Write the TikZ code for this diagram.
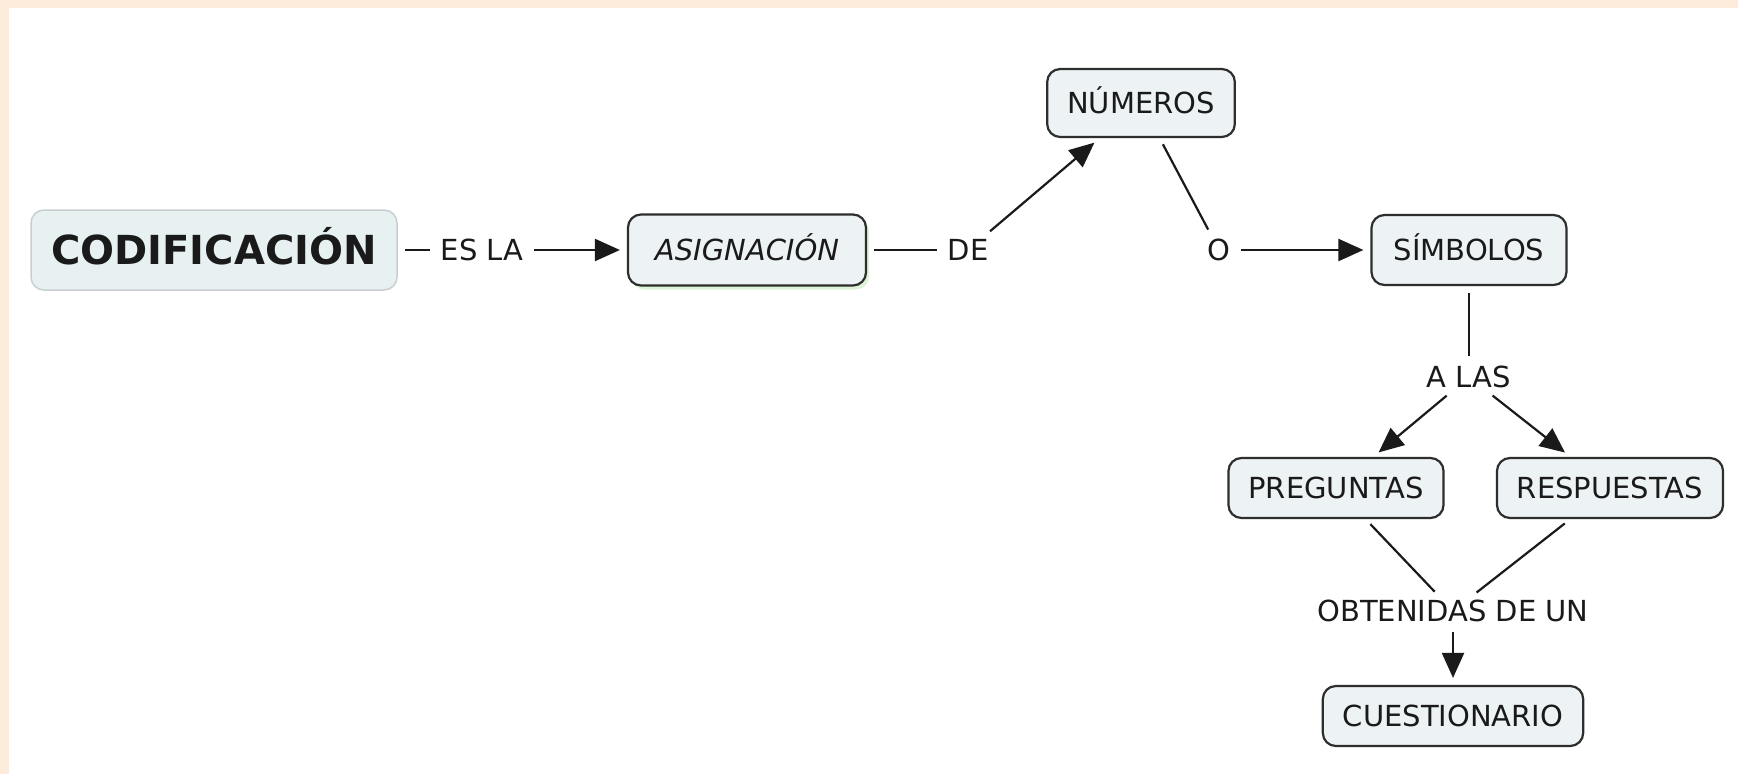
\documentclass[tikz,border=0pt]{standalone}
\usepackage{fontspec}
\setmainfont{DejaVu Sans}
\usetikzlibrary{arrows.meta,shadows}
\definecolor{peach}{HTML}{FDEBDC}
\definecolor{boxfill}{HTML}{EDF2F4}
\definecolor{boxline}{HTML}{2E2E2E}
\definecolor{codfill}{HTML}{E8F1F2}
\definecolor{codline}{HTML}{C8CFD0}
\definecolor{txt}{HTML}{1A1A1A}
\definecolor{glow}{HTML}{D6F2CC}
\begin{document}
\begin{tikzpicture}[x=1pt,y=-1pt,
  concept/.style={draw=boxline, line width=2.2pt, fill=boxfill, rounded corners=13pt,
    font=\fontsize{29}{33}\selectfont, text=txt, inner xsep=20pt, inner ysep=0pt,
    minimum height=60pt, text height=21pt, text depth=1pt},
  lbl/.style={font=\fontsize{29}{33}\selectfont, text=txt, inner sep=3pt,
    text height=21pt, text depth=1pt},
  link/.style={line width=2.2pt, draw=txt, shorten <=7pt, shorten >=7pt},
  arr/.style={link, -{Triangle[length=25pt,width=22pt]}},
]
\useasboundingbox (0,0) rectangle (1738,774);
\fill[white] (0,0) rectangle (1738,774);
\fill[peach] (0,0) rectangle (1738,7.5);
\fill[peach] (0,0) rectangle (8.5,774);

\node[concept, draw=codline, line width=1.5pt, fill=codfill,
  font=\bfseries\fontsize{40}{44}\selectfont, minimum width=366pt,
  minimum height=80pt, text height=29pt, inner xsep=10pt] (cod) at (214,250) {CODIFICACIÓN};
\node[lbl] (esla) at (482,250) {ES LA};
\node[concept, font=\itshape\fontsize{29}{33}\selectfont, minimum width=238pt,
  minimum height=71pt,
  drop shadow={shadow xshift=3pt, shadow yshift=-4pt, fill=glow, opacity=0.8}] (asig) at (747,250) {ASIGNACIÓN};
\node[lbl] (de) at (968,250) {DE};
\node[concept, minimum width=184pt, minimum height=68pt] (num) at (1141,103) {NÚMEROS};
\node[lbl] (o) at (1219,250) {O};
\node[concept, minimum width=195pt, minimum height=70pt] (sim) at (1469,250) {SÍMBOLOS};
\node[lbl] (alas) at (1469,377) {A LAS};
\node[concept] (preg) at (1336,488) {PREGUNTAS};
\node[concept] (resp) at (1610,488) {RESPUESTAS};
\node[lbl] (obt) at (1453,611) {OBTENIDAS DE UN};
\node[concept] (cue) at (1453,716) {CUESTIONARIO};

\draw[link] (cod) -- (esla);
\draw[arr] (esla) -- (asig);
\draw[link] (asig) -- (de);
\draw[arr] (de) -- (num);
\draw[link] (num) -- (o);
\draw[arr] (o) -- (sim);
\draw[link] (sim) -- (alas);
\draw[arr] (alas) -- (preg);
\draw[arr] (alas) -- (resp);
\draw[link] (preg) -- (obt);
\draw[link] (resp) -- (obt);
\draw[arr] (obt) -- (cue);
\end{tikzpicture}
\end{document}
